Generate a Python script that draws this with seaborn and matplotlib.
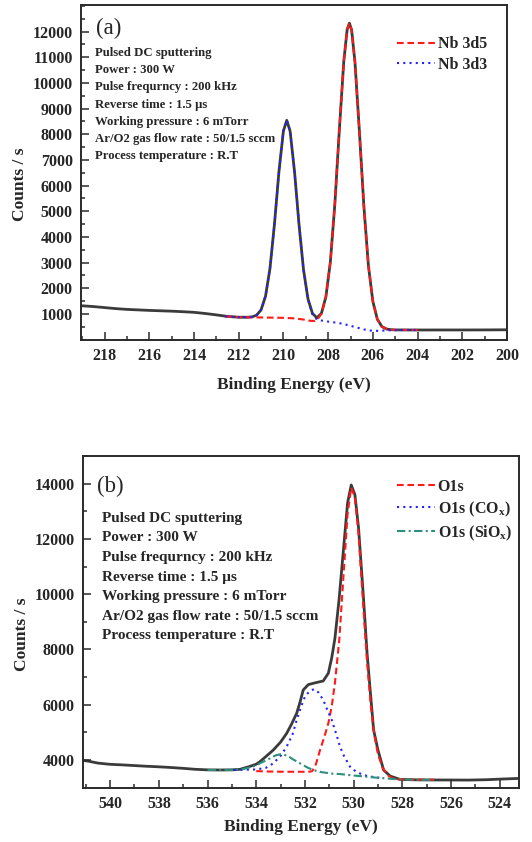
import matplotlib
matplotlib.use("Agg")
import matplotlib.pyplot as plt
from matplotlib.ticker import MultipleLocator, FixedLocator
import seaborn as sns

# ---- Nb 3d region ----
be_a = [219.0, 218.5, 218.0, 217.5, 217.0, 216.5, 216.0, 215.5, 215.0, 214.5,
        214.0, 213.5, 213.0, 212.5, 212.0, 211.6, 211.4, 211.2, 211.0, 210.8,
        210.6, 210.4, 210.2, 210.0, 209.85, 209.7, 209.5, 209.3, 209.1, 208.9,
        208.7, 208.5, 208.3, 208.1, 207.9, 207.7, 207.5, 207.3, 207.15, 207.05,
        206.95, 206.8, 206.6, 206.4, 206.2, 206.0, 205.8, 205.6, 205.4, 205.2,
        205.0, 204.5, 204.0, 203.0, 202.0, 201.0, 200.0]
total_a = [1320, 1290, 1250, 1210, 1180, 1160, 1140, 1125, 1110, 1090,
           1065, 1020, 965, 905, 875, 874, 888, 952, 1159, 1692,
           2781, 4506, 6545, 8134, 8545, 8122, 6520, 4463, 2716, 1581,
           1021, 849, 1027, 1672, 3035, 5283, 8159, 10846, 12084, 12330,
           12066, 10806, 8084, 5173, 2890, 1488, 795, 513, 417, 389,
           380, 378, 377, 378, 378, 380, 385]

be_nb3d5 = [212.6, 212.2, 211.8, 211.4, 211.0, 210.5, 210.0, 209.5, 209.0, 208.8,
            208.6, 208.5, 208.3, 208.1, 207.9, 207.7, 207.5, 207.3, 207.15, 207.05,
            206.95, 206.8, 206.6, 206.4, 206.2, 206.0, 205.8, 205.6, 205.4, 205.2,
            205.0, 204.5, 204.0]
nb3d5 = [910, 885, 875, 870, 865, 858, 850, 830, 772, 735,
         729, 763, 1007, 1668, 3035, 5283, 8159, 10846, 12084, 12330,
         12066, 10806, 8084, 5173, 2890, 1488, 795, 513, 417, 389,
         380, 378, 377]

be_nb3d3 = [212.6, 212.2, 211.8, 211.6, 211.4, 211.2, 211.0, 210.8, 210.6, 210.4,
            210.2, 210.0, 209.85, 209.7, 209.5, 209.3, 209.1, 208.9, 208.7, 208.5,
            208.2, 207.9, 207.6, 207.3, 207.0, 206.7, 206.4, 206.2, 206.0, 205.7,
            205.4, 205.0, 204.5, 204.0]
nb3d3 = [910, 885, 875, 874, 888, 952, 1159, 1692, 2781, 4506,
         6545, 8134, 8545, 8122, 6520, 4463, 2715, 1574, 989, 780,
         730, 690, 660, 610, 540, 470, 400, 365, 345, 345,
         360, 372, 376, 377]

# ---- O 1s region ----
be_b = [541.1, 540.9, 540.5, 540.0, 539.5, 539.0, 538.5, 538.0, 537.5, 537.0,
        536.5, 536.0, 535.5, 535.0, 534.67, 534.3, 534.0, 533.85, 533.6, 533.3,
        533.0, 532.75, 532.55, 532.34, 532.2, 532.07, 531.86, 531.6, 531.25, 531.04,
        530.9, 530.77, 530.6, 530.4, 530.25, 530.1, 529.95, 529.8, 529.6, 529.45,
        529.3, 529.18, 529.0, 528.77, 528.5, 528.1, 527.5, 527.0, 526.0, 525.3,
        524.5, 524.0, 523.2]
total_b = [3985, 3960, 3890, 3845, 3825, 3800, 3775, 3755, 3730, 3700,
           3665, 3645, 3640, 3645, 3663, 3760, 3850, 3940, 4130, 4362,
           4650, 4966, 5300, 5692, 6100, 6536, 6730, 6790, 6860, 7140,
           7700, 8400, 9800, 11800, 13300, 13950, 13600, 12400, 9900, 7865,
           6300, 5087, 4350, 3638, 3420, 3300, 3285, 3280, 3278, 3275,
           3290, 3310, 3336]

be_o1s = [534.0, 533.5, 533.0, 532.5, 532.0, 531.8, 531.7, 531.55, 531.38, 531.2,
          531.04, 530.9, 530.77, 530.59, 530.4, 530.25, 530.1, 529.95, 529.8, 529.6,
          529.45, 529.3, 529.15, 529.0, 528.8, 528.6, 528.4, 528.2, 528.0, 527.5,
          527.0, 526.7]
o1s = [3600, 3585, 3578, 3576, 3576, 3580, 3600, 3850, 4362, 4850,
       5330, 5950, 6779, 8348, 10900, 12900, 13850, 13500, 12200, 9500,
       7550, 6000, 4900, 4200, 3700, 3450, 3340, 3305, 3298, 3292,
       3290, 3288]

be_co = [534.9, 534.5, 534.0, 533.6, 533.3, 533.0, 532.75, 532.5, 532.34, 532.15,
         532.0, 531.8, 531.63, 531.45, 531.25, 531.1, 530.9, 530.7, 530.56, 530.4,
         530.15, 529.9, 529.6, 529.3, 529.05, 528.8]
o1s_co = [3640, 3650, 3660, 3720, 3880, 4150, 4483, 4950, 5450, 5950,
          6295, 6500, 6562, 6450, 6174, 5850, 5450, 4900, 4483, 4150,
          3760, 3580, 3457, 3400, 3372, 3340]

be_sio = [536.0, 535.5, 535.0, 534.5, 534.0, 533.85, 533.5, 533.2, 532.96, 532.7,
          532.5, 532.2, 531.9, 531.66, 531.3, 530.9, 530.56, 530.0, 529.5, 529.19,
          528.6, 528.09, 527.5, 527.0, 526.7]
o1s_sio = [3640, 3640, 3645, 3680, 3800, 3880, 4030, 4170, 4217, 4150,
           4030, 3880, 3730, 3638, 3560, 3510, 3493, 3440, 3400, 3372,
           3330, 3300, 3290, 3285, 3282]

conditions = ["Pulsed DC sputtering",
              "Power : 300 W",
              "Pulse frequrncy : 200 kHz",
              "Reverse time : 1.5 \u03bcs",
              "Working pressure : 6 mTorr",
              "Ar/O2 gas flow rate : 50/1.5 sccm",
              "Process temperature : R.T"]

sns.set_style("ticks")
plt.rcParams["font.family"] = ["Liberation Serif", "DejaVu Serif"]
plt.rcParams["font.weight"] = "bold"
plt.rcParams["axes.labelweight"] = "bold"
plt.rcParams["mathtext.fontset"] = "custom"
plt.rcParams["mathtext.rm"] = "Liberation Serif:bold"
plt.rcParams["mathtext.it"] = "Liberation Serif:bold"
plt.rcParams["mathtext.bf"] = "Liberation Serif:bold"

RED = "#ff1a1a"
BLUE = "#2222ff"
TEAL = "#2e8f7e"
BLACK = "#262626"

fig = plt.figure(figsize=(5.32, 8.42), dpi=100)
ax_a = fig.add_axes([0.1523, 0.5962, 0.8008, 0.3979])
ax_b = fig.add_axes([0.1566, 0.0645, 0.8195, 0.3940])


def style(ax):
    for sp in ax.spines.values():
        sp.set_visible(True)
        sp.set_linewidth(1.4)
        sp.set_color("#2a2a2a")
    ax.tick_params(which="both", direction="in", top=False, right=False,
                   width=1.1, color="#2a2a2a", labelsize=11.5, pad=6)
    ax.tick_params(which="major", length=5.5)
    ax.tick_params(which="minor", length=3)
    ax.grid(False)


# ---- panel (a) ----
sns.lineplot(x=be_a, y=total_a, ax=ax_a, color=BLACK, lw=2.0, sort=False,
             estimator=None, alpha=0.9)
sns.lineplot(x=be_nb3d5, y=nb3d5, ax=ax_a, color=RED, lw=1.5, sort=False,
             estimator=None, linestyle=(0, (3.2, 1.8)))
l_a5 = ax_a.lines[-1]
sns.lineplot(x=be_nb3d3, y=nb3d3, ax=ax_a, color=BLUE, lw=1.5, sort=False,
             estimator=None, linestyle=(0, (1, 2)))
l_a3 = ax_a.lines[-1]

ax_a.set_xlim(219.05, 200.0)
ax_a.set_ylim(-13, 13040)
ax_a.xaxis.set_major_locator(FixedLocator(list(range(200, 219, 2))))
ax_a.xaxis.set_minor_locator(MultipleLocator(1))
ax_a.yaxis.set_major_locator(FixedLocator(list(range(1000, 12001, 1000))))
ax_a.yaxis.set_minor_locator(MultipleLocator(500))
style(ax_a)
ax_a.set_xlabel("Binding Energy (eV)", fontsize=12.5, labelpad=9)
ax_a.set_ylabel("Counts / s", fontsize=12.5)
ax_a.yaxis.set_label_coords(-0.124, 0.466)

ax_a.legend(handles=[l_a5, l_a3], labels=["Nb 3d5", "Nb 3d3"],
            loc="upper left", bbox_to_anchor=(0.742, 0.907), frameon=False,
            fontsize=11.5, handlelength=2.4, handletextpad=0.15,
            labelspacing=0.3, borderpad=0, borderaxespad=0)

ax_a.text(0.036, 0.931, "(a)", transform=ax_a.transAxes, fontsize=16.5,
          fontweight="normal", ha="left", va="center")
for i, line in enumerate(conditions):
    y_px = 53.3 + i * 17.1
    ax_a.text(0.033, (340 - y_px) / 335, line, transform=ax_a.transAxes,
              fontsize=9.2, ha="left", va="center")

# ---- panel (b) ----
sns.lineplot(x=be_b, y=total_b, ax=ax_b, color=BLACK, lw=2.0, sort=False,
             estimator=None, alpha=0.9)
sns.lineplot(x=be_o1s, y=o1s, ax=ax_b, color=RED, lw=1.5, sort=False,
             estimator=None, linestyle=(0, (3.2, 1.8)))
l_b1 = ax_b.lines[-1]
sns.lineplot(x=be_co, y=o1s_co, ax=ax_b, color=BLUE, lw=1.5, sort=False,
             estimator=None, linestyle=(0, (1, 2)))
l_b2 = ax_b.lines[-1]
sns.lineplot(x=be_sio, y=o1s_sio, ax=ax_b, color=TEAL, lw=1.5, sort=False,
             estimator=None, linestyle=(0, (4, 1.6, 1, 1.6)))
l_b3 = ax_b.lines[-1]

ax_b.set_xlim(541.1, 523.2)
ax_b.set_ylim(3000, 15000)
ax_b.xaxis.set_major_locator(FixedLocator(list(range(524, 541, 2))))
ax_b.xaxis.set_minor_locator(MultipleLocator(1))
ax_b.yaxis.set_major_locator(FixedLocator(list(range(4000, 14001, 2000))))
ax_b.yaxis.set_minor_locator(MultipleLocator(1000))
style(ax_b)
ax_b.set_xlabel("Binding Energy (eV)", fontsize=12.5, labelpad=5)
ax_b.set_ylabel("Counts / s", fontsize=12.5)
ax_b.yaxis.set_label_coords(-0.122, 0.463)

ax_b.legend(handles=[l_b1, l_b2, l_b3],
            labels=["O1s", "O1s (CO$_\\mathrm{x}$)", "O1s (SiO$_\\mathrm{x}$)"],
            loc="upper left", bbox_to_anchor=(0.7195, 0.9316), frameon=False,
            fontsize=11.5, handlelength=2.4, handletextpad=0.15,
            labelspacing=0.3, borderpad=0, borderaxespad=0)

ax_b.text(0.031, 0.908, "(b)", transform=ax_b.transAxes, fontsize=16.5,
          fontweight="normal", ha="left", va="center")
for i, line in enumerate(conditions):
    y_px = 518.3 + i * 19.6
    ax_b.text(0.042, (787.7 - y_px) / 331.7, line, transform=ax_b.transAxes,
              fontsize=11, ha="left", va="center")

fig.savefig("out.png", dpi=100)
